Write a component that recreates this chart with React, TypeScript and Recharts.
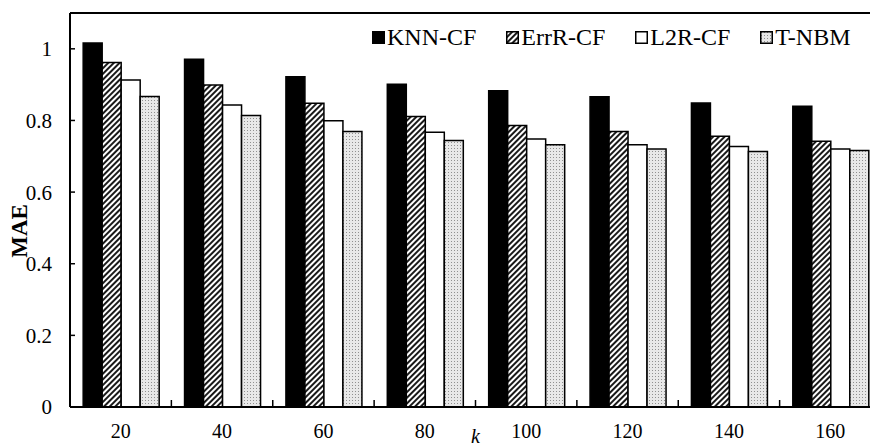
import { Bar, BarChart, Legend, ReferenceLine, XAxis, YAxis } from "recharts";

const kValues = ["20", "40", "60", "80", "100", "120", "140", "160"];
const knnCf = [1.016, 0.971, 0.922, 0.901, 0.883, 0.866, 0.849, 0.840];
const errrCf = [0.962, 0.899, 0.848, 0.811, 0.786, 0.769, 0.756, 0.742];
const l2rCf = [0.913, 0.843, 0.799, 0.767, 0.748, 0.732, 0.727, 0.720];
const tNbm = [0.867, 0.814, 0.769, 0.744, 0.732, 0.720, 0.713, 0.716];
const yTicks = [0, 0.2, 0.4, 0.6, 0.8, 1];

const series = [
  { key: "knn", name: "KNN-CF", fill: "#000" },
  { key: "errr", name: "ErrR-CF", fill: "url(#hatch)" },
  { key: "l2r", name: "L2R-CF", fill: "#fff" },
  { key: "tnbm", name: "T-NBM", fill: "url(#dots)" },
];

const data = kValues.map((k, i) => ({
  k,
  knn: knnCf[i],
  errr: errrCf[i],
  l2r: l2rCf[i],
  tnbm: tNbm[i],
}));

const font = "'Liberation Serif', 'Times New Roman', serif";

function XTick(props: any) {
  const { x, y, payload } = props;
  const edge = x - (payload.offset || 0);
  const axisY = 407;
  return (
    <g>
      <line x1={edge} x2={edge} y1={axisY - 1} y2={axisY - 7} stroke="#000" strokeWidth={1.5} />
      <text x={x} y={y + 23} textAnchor="middle" fontSize={20} fontFamily={font} fill="#000">
        {payload.value}
      </text>
    </g>
  );
}

function LegendBox() {
  return (
    <div style={{ display: "flex", fontFamily: font, fontSize: 24, color: "#000", lineHeight: "24px" }}>
      {series.map((s) => (
        <div key={s.key} style={{ display: "flex", alignItems: "center", marginRight: 30 }}>
          <svg width={13} height={13} style={{ marginRight: 2 }}>
            <rect x={0.75} y={0.75} width={11.5} height={11.5} fill={s.fill} stroke="#000" strokeWidth={1.5} />
          </svg>
          <span>{s.name}</span>
        </div>
      ))}
    </div>
  );
}

export default function App() {
  return (
    <div style={{ position: "absolute", left: 0, top: 0, width: 870, height: 448, overflow: "hidden", background: "#fff" }}>
      <BarChart
        width={890}
        height={448}
        data={data}
        margin={{ top: 13, right: 9, left: 0, bottom: 0 }}
        barGap={0}
        barCategoryGap="13%"
      >
        <defs>
          <pattern id="hatch" width={4} height={4} patternUnits="userSpaceOnUse" patternTransform="rotate(45)">
            <rect width={4} height={4} fill="#fff" />
            <line x1={1} y1={0} x2={1} y2={4} stroke="#000" strokeWidth={1.8} />
          </pattern>
          <pattern id="dots" width={3} height={3} patternUnits="userSpaceOnUse">
            <rect width={3} height={3} fill="#e8e8e8" />
            <rect x={1} y={1} width={1} height={1} fill="#909090" />
          </pattern>
        </defs>
        <XAxis
          dataKey="k"
          height={41}
          tickLine={false}
          tick={<XTick />}
          interval={0}
          axisLine={{ stroke: "#000", strokeWidth: 2 }}
          label={{
            value: "k",
            position: "insideBottom",
            offset: 5,
            style: { fontFamily: font, fontStyle: "italic", fontSize: 20, fill: "#000" },
          }}
        />
        <YAxis
          width={70}
          domain={[0, 1.1]}
          ticks={yTicks}
          tickSize={-5}
          tickMargin={23}
          allowDataOverflow
          axisLine={{ stroke: "#000", strokeWidth: 2 }}
          tickLine={{ stroke: "#000", strokeWidth: 1.5 }}
          tick={{ fontFamily: font, fontSize: 21, fill: "#000" }}
          label={{
            content: (p: any) => {
              const vb = p.viewBox || { x: 0, y: 13, height: 394 };
              const cx = vb.x + 19;
              const cy = vb.y + vb.height / 2 + 21;
              return (
                <text
                  x={cx}
                  y={cy}
                  transform={`rotate(-90 ${cx} ${cy})`}
                  textAnchor="middle"
                  dominantBaseline="central"
                  fontFamily={font}
                  fontWeight="bold"
                  fontSize={23}
                  fill="#000"
                >
                  MAE
                </text>
              );
            },
          }}
        />
        <ReferenceLine y={1.1} stroke="#000" strokeWidth={2} ifOverflow="visible" />
        <Legend
          layout="horizontal"
          verticalAlign="middle"
          align="center"
          content={<LegendBox />}
          wrapperStyle={{ top: 25, left: 372, width: "auto" }}
        />
        {series.map((s) => (
          <Bar
            key={s.key}
            dataKey={s.key}
            name={s.name}
            fill={s.fill}
            stroke="#000"
            strokeWidth={1.5}
            isAnimationActive={false}
          />
        ))}
      </BarChart>
    </div>
  );
}
